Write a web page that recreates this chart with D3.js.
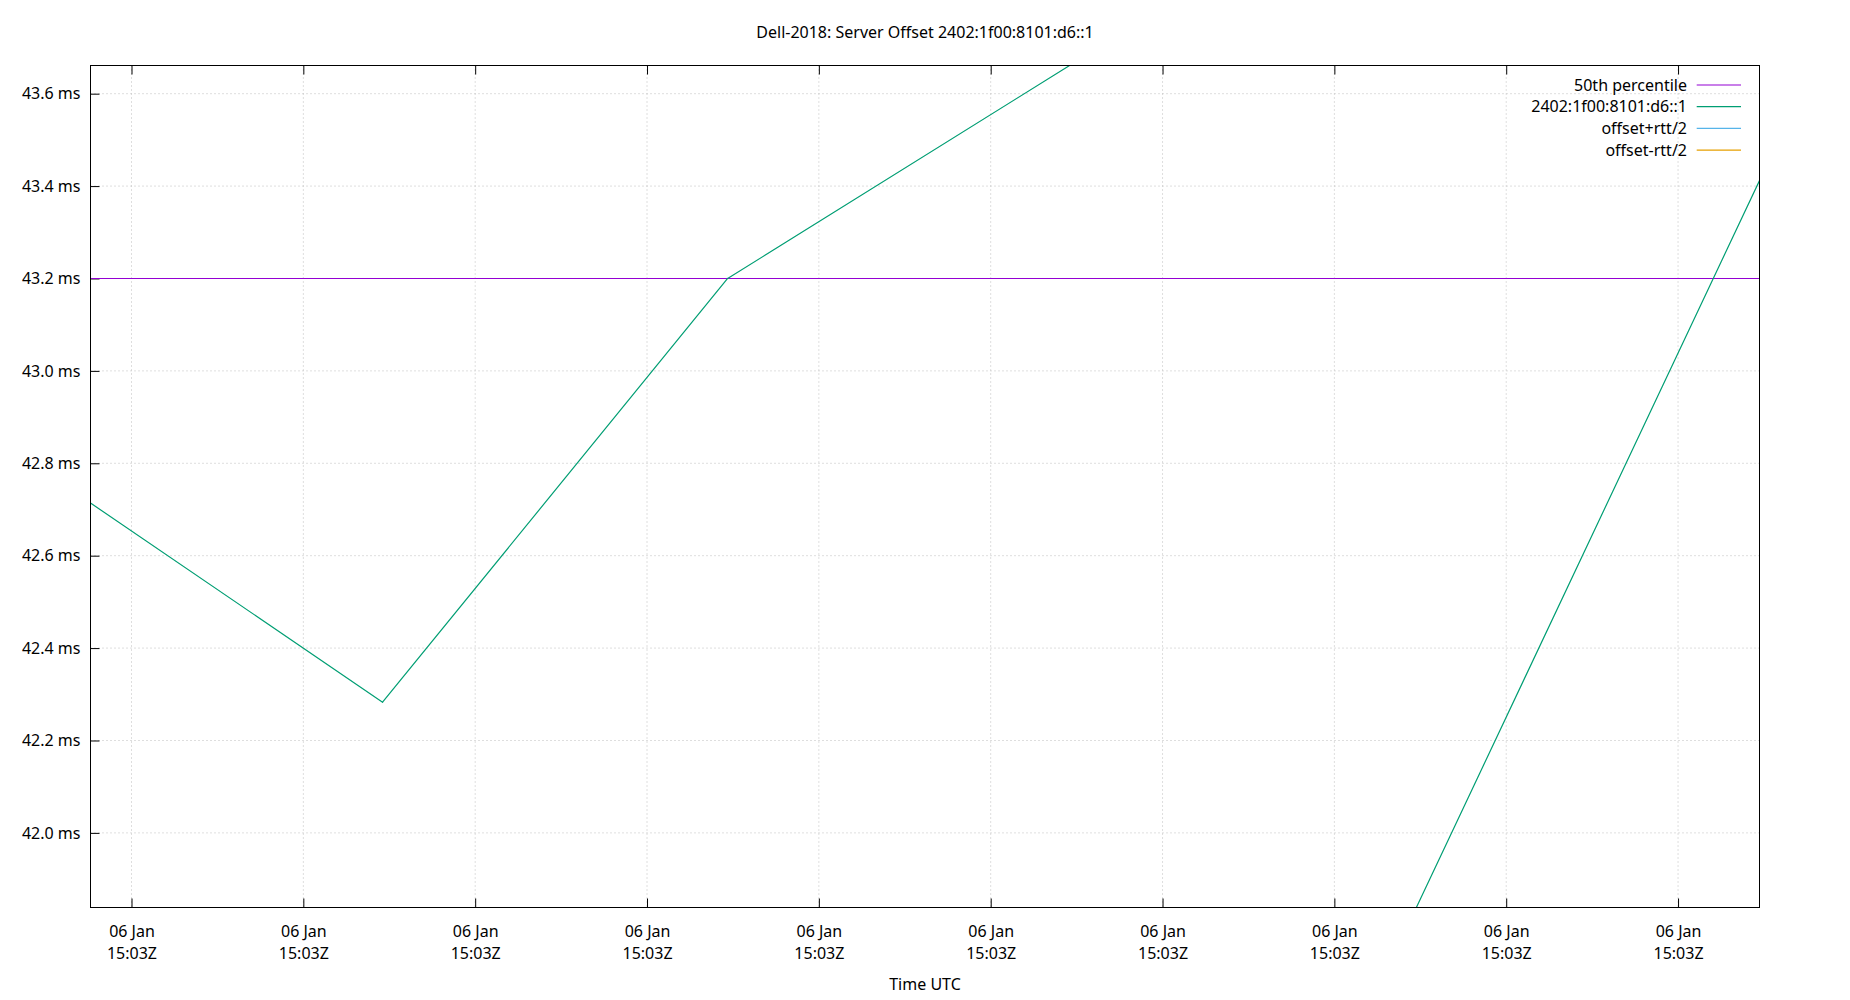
<!DOCTYPE html>
<html>
<head>
<meta charset="utf-8">
<script src="https://cdn.jsdelivr.net/npm/d3@7"></script>
<style>
    body { margin: 0; background: #fff; }
    svg { display: block; font-family: "Noto Sans", "Open Sans", sans-serif; }
    .tick line { stroke: #000; }
</style>
</head>
<body>
<svg id="offsetChart"></svg>
<script>
// Samples: seconds after 06 Jan 15:03:00Z, offset in ms
const sampleSeconds = [3.807, 12.305, 22.346, 32.36, 42.37, 52.37];
const offsetMs = [42.714, 42.283, 43.200, 43.664, 41.836, 43.412];

// Percentile values used by the plot (median line + y range)
const medianMs = 43.2;
const yRangeMs = [41.8385, 43.661];

const xTickSeconds = [5, 10, 15, 20, 25, 30, 35, 40, 45, 50];
const yTickMs = [42.0, 42.2, 42.4, 42.6, 42.8, 43.0, 43.2, 43.4, 43.6];

const legendLabels = ["50th percentile", "2402:1f00:8101:d6::1", "offset+rtt/2", "offset-rtt/2"];
const legendColors = ["#9400d3", "#009e73", "#56b4e9", "#e69f00"];

const chartTitle = "Dell-2018: Server Offset 2402:1f00:8101:d6::1";
const xAxisTitle = "Time UTC";

document.addEventListener("DOMContentLoaded", () => {
    const width = 1850;
    const height = 1000;
    const margin = { top: 65.5, right: 90.5, bottom: 92.5, left: 90.5 };
    const innerWidth = width - margin.left - margin.right;
    const innerHeight = height - margin.top - margin.bottom;

    const svg = d3.select("#offsetChart")
        .attr("width", width)
        .attr("height", height);

    const baseTime = Date.UTC(2019, 0, 6, 15, 3, 0);
    const toDate = s => new Date(baseTime + s * 1000);

    const points = sampleSeconds.map((s, i) => ({ t: toDate(s), v: offsetMs[i] }));

    const xScale = d3.scaleUtc()
        .domain(d3.extent(points, d => d.t))
        .range([0, innerWidth]);

    const yScale = d3.scaleLinear()
        .domain(yRangeMs)
        .range([innerHeight, 0]);

    const plotGroup = svg.append("g")
        .attr("transform", `translate(${margin.left},${margin.top})`);

    svg.append("defs").append("clipPath")
        .attr("id", "plotClip")
        .append("rect")
        .attr("width", innerWidth)
        .attr("height", innerHeight);

    // Grid
    const gridGroup = plotGroup.append("g")
        .attr("stroke", "#bdbdbd")
        .attr("stroke-width", 1)
        .attr("stroke-dasharray", "1,3");

    gridGroup.selectAll(".vgrid")
        .data(xTickSeconds)
        .join("line")
        .attr("x1", d => xScale(toDate(d)))
        .attr("x2", d => xScale(toDate(d)))
        .attr("y1", 0)
        .attr("y2", innerHeight);

    gridGroup.selectAll(".hgrid")
        .data(yTickMs)
        .join("line")
        .attr("x1", 0)
        .attr("x2", innerWidth)
        .attr("y1", d => yScale(d))
        .attr("y2", d => yScale(d));

    // Axes
    const yAxisGroup = plotGroup.append("g")
        .call(d3.axisLeft(yScale)
            .tickValues(yTickMs)
            .tickSize(-9)
            .tickPadding(10)
            .tickFormat(d => `${d3.format(".1f")(d)} ms`));

    const xAxisGroup = plotGroup.append("g")
        .attr("transform", `translate(0, ${innerHeight})`)
        .call(d3.axisBottom(xScale)
            .tickValues(xTickSeconds.map(toDate))
            .tickSize(-9));

    plotGroup.append("g")
        .call(d3.axisTop(xScale)
            .tickValues(xTickSeconds.map(toDate))
            .tickSize(-9)
            .tickFormat(""));

    plotGroup.selectAll(".domain").remove();

    [yAxisGroup, xAxisGroup].forEach(g => {
        g.selectAll("text")
            .attr("font-size", 16)
            .attr("font-family", "Noto Sans, Open Sans, sans-serif")
            .attr("fill", "#000");
    });

    const fmtDay = d3.utcFormat("%d %b");
    const fmtTime = d3.utcFormat("%H:%MZ");
    xAxisGroup.selectAll(".tick text").each(function (d) {
        const text = d3.select(this).text(null).attr("dy", null).attr("y", null);
        text.append("tspan").attr("x", 0).attr("y", 29.5).text(fmtDay(d));
        text.append("tspan").attr("x", 0).attr("y", 51.2).text(fmtTime(d));
    });

    // Median line
    plotGroup.append("line")
        .attr("x1", 0)
        .attr("x2", innerWidth)
        .attr("y1", yScale(medianMs))
        .attr("y2", yScale(medianMs))
        .attr("stroke", legendColors[0])
        .attr("stroke-width", 1.2);

    // Offset line: segments with both ends outside the y range are dropped
    const inRange = p => p.v >= yRangeMs[0] && p.v <= yRangeMs[1];
    const segments = d3.pairs(points).filter(([a, b]) => inRange(a) || inRange(b));

    plotGroup.append("g")
        .attr("clip-path", "url(#plotClip)")
        .selectAll("line")
        .data(segments)
        .join("line")
        .attr("x1", d => xScale(d[0].t))
        .attr("y1", d => yScale(d[0].v))
        .attr("x2", d => xScale(d[1].t))
        .attr("y2", d => yScale(d[1].v))
        .attr("stroke", legendColors[1])
        .attr("stroke-width", 1.2)
        .attr("stroke-linecap", "round");

    // Border
    plotGroup.append("rect")
        .attr("width", innerWidth)
        .attr("height", innerHeight)
        .attr("fill", "none")
        .attr("stroke", "#000")
        .attr("stroke-width", 1);

    // Legend
    const legendGroup = svg.append("g")
        .attr("transform", "translate(1687, 85)");

    legendLabels.forEach((label, i) => {
        const row = legendGroup.append("g")
            .attr("transform", `translate(0, ${i * 21.7})`);
        row.append("text")
            .attr("text-anchor", "end")
            .attr("y", 5.6)
            .attr("font-size", 16)
            .text(label);
        row.append("line")
            .attr("x1", 9.7)
            .attr("x2", 54)
            .attr("stroke", legendColors[i])
            .attr("stroke-width", 1.2);
    });

    // Titles
    svg.append("text")
        .attr("x", margin.left + innerWidth / 2)
        .attr("y", 38)
        .attr("text-anchor", "middle")
        .attr("font-size", 16)
        .text(chartTitle);

    svg.append("text")
        .attr("x", margin.left + innerWidth / 2)
        .attr("y", 990)
        .attr("text-anchor", "middle")
        .attr("font-size", 16)
        .text(xAxisTitle);
});
</script>
</body>
</html>
